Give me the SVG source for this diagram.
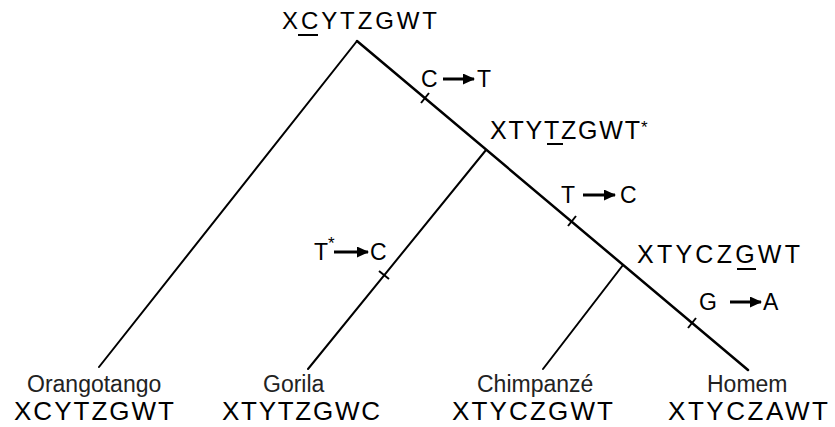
<svg xmlns="http://www.w3.org/2000/svg" width="835" height="427" viewBox="0 0 835 427">
<defs>
<marker id="ah" markerUnits="userSpaceOnUse" markerWidth="12" markerHeight="11" refX="11" refY="5.5" orient="auto">
<path d="M0,0 L12,5.5 L0,11 z" fill="#000"/>
</marker>
<style>
text{font-family:"Liberation Sans",Arial,sans-serif;fill:#000}
.seq{font-size:25px}
.big{font-size:26px}
.mut{font-size:23px}
.sp{font-size:23px;fill:#222}
.st{font-size:17px}
.br{stroke:#000;stroke-width:2;fill:none;stroke-linecap:round}
.tk{stroke:#000;stroke-width:2}
.ar{stroke:#000;stroke-width:3}
.ul{stroke:#000;stroke-width:2}
</style>
</defs>
<rect width="835" height="427" fill="#fff"/>
<g id="connectors">
<line class="br" x1="357" y1="41" x2="99" y2="367"/>
<line class="br" x1="357" y1="41" x2="748" y2="370" style="stroke-width:2.5"/>
<line class="br" x1="486" y1="150" x2="308" y2="369"/>
<line class="br" x1="623" y1="265" x2="543" y2="369"/>
<line class="tk" x1="429" y1="93" x2="421" y2="103"/>
<line class="tk" x1="576" y1="216" x2="568" y2="226"/>
<line class="tk" x1="696" y1="318" x2="688" y2="328"/>
<line class="tk" x1="379" y1="271" x2="389" y2="279"/>
</g>
<g id="root">
<text class="seq" x="282" y="29" textLength="155" lengthAdjust="spacing" style="font-size:24px">XCYTZGWT</text>
<line class="ul" x1="298" y1="35" x2="318" y2="35"/>
</g>
<g id="node-xtytzgwt">
<text class="seq" x="490" y="139" textLength="150" lengthAdjust="spacing">XTYTZGWT</text>
<text class="st" x="641" y="133">*</text>
<line class="ul" x1="547" y1="144" x2="563" y2="144"/>
</g>
<g id="node-xtyczgwt">
<text class="seq" x="637" y="263" textLength="163" lengthAdjust="spacing">XTYCZGWT</text>
<line class="ul" x1="737" y1="269" x2="756" y2="269"/>
</g>
<g id="mut-ct">
<text class="mut" x="421" y="87">C</text>
<line class="ar" x1="443" y1="79" x2="474" y2="79" marker-end="url(#ah)"/>
<text class="mut" x="477" y="87">T</text>
</g>
<g id="mut-tc">
<text class="mut" x="561" y="203">T</text>
<line class="ar" x1="583" y1="195" x2="615" y2="195" marker-end="url(#ah)"/>
<text class="mut" x="620" y="203">C</text>
</g>
<g id="mut-tstar-c">
<text class="mut" x="314" y="260">T</text>
<text class="st" x="328" y="249">*</text>
<line class="ar" x1="334" y1="252" x2="368" y2="252" marker-end="url(#ah)"/>
<text class="mut" x="370" y="260">C</text>
</g>
<g id="mut-ga">
<text class="mut" x="699" y="310">G</text>
<line class="ar" x1="730" y1="302" x2="761" y2="302" marker-end="url(#ah)"/>
<text class="mut" x="763" y="310">A</text>
</g>
<g id="orangotango">
<text class="sp" x="27" y="392">Orangotango</text>
<text class="big" x="14" y="420" textLength="160" lengthAdjust="spacing">XCYTZGWT</text>
</g>
<g id="gorila">
<text class="sp" x="263" y="392">Gorila</text>
<text class="big" x="222" y="420" textLength="158" lengthAdjust="spacing">XTYTZGWC</text>
</g>
<g id="chimpanze">
<text class="sp" x="477" y="392">Chimpanzé</text>
<text class="big" x="452" y="420" textLength="161" lengthAdjust="spacing">XTYCZGWT</text>
</g>
<g id="homem">
<text class="sp" x="707" y="392">Homem</text>
<text class="big" x="668" y="420" textLength="160" lengthAdjust="spacing">XTYCZAWT</text>
</g>
</svg>
